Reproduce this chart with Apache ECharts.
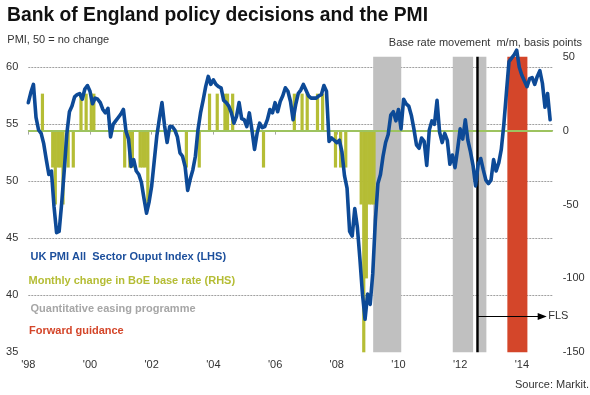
<!DOCTYPE html>
<html>
<head>
<meta charset="utf-8">
<script src="https://cdn.jsdelivr.net/npm/echarts@6/dist/echarts.min.js"></script>
<style>
html,body{margin:0;padding:0;background:#fff;}
#c{width:590px;height:395px;}
</style>
</head>
<body>
<div id="c"></div>
<script>
// ---- Data ----
const startYear = 1998; // PMI monthly series starts Jan 1998
const pmi = [
56.9,57.8,58.5,55.6,54.5,54.2,53.3,51.9,50.6,50.9,47.8,45.5,
45.6,48.1,51.0,54.2,56.1,56.6,57.4,57.6,57.7,57.2,58.1,58.4,
57.9,56.8,57.3,57.2,56.9,56.3,56.0,56.4,53.9,55.0,55.3,55.6,
55.9,56.3,54.4,53.7,51.3,51.9,50.9,50.6,49.9,48.5,47.2,48.2,
49.6,51.8,54.0,55.5,56.9,54.9,53.4,54.8,54.8,54.5,53.9,52.5,
52.2,51.3,49.2,50.2,51.0,52.2,54.5,56.0,57.1,58.3,59.2,58.5,
58.9,58.5,58.3,58.2,57.1,56.9,56.6,56.0,55.1,55.7,56.9,55.5,
55.4,54.8,56.0,54.5,52.8,54.2,55.1,54.7,54.8,55.4,56.3,56.0,
56.9,56.1,57.0,57.5,58.2,57.9,57.0,55.4,56.7,57.7,58.0,58.5,
58.0,57.5,57.3,57.3,57.3,57.5,57.6,58.4,57.9,53.5,53.8,53.6,
53.4,53.6,52.6,50.5,49.4,45.6,45.2,47.6,46.0,43.2,40.1,37.9,
40.1,39.2,41.9,46.5,49.8,50.6,52.2,53.4,54.1,55.8,56.1,55.3,
56.3,54.6,57.2,56.8,56.6,55.8,54.6,53.2,52.9,53.8,53.5,51.4,
54.5,55.3,55.0,57.1,54.3,53.4,54.2,53.6,51.5,52.3,51.2,52.8,
54.6,53.7,55.4,53.6,52.6,51.4,49.6,51.5,52.0,51.0,50.1,49.8,
50.1,51.9,50.9,51.6,52.8,55.0,57.8,60.5,60.8,61.1,61.5,60.0,
59.3,58.8,58.3,59.0,59.1,58.5,59.2,59.7,58.6,56.5,57.7,55.4
];
const rateMonths = [
"1998-06","1998-10","1998-11","1998-12","1999-01","1999-02","1999-04","1999-06",
"1999-09","1999-11","2000-01","2000-02",
"2001-02","2001-04","2001-05","2001-08","2001-09","2001-10","2001-11",
"2003-02","2003-07","2003-11","2004-02","2004-05","2004-06","2004-08",
"2005-08","2006-08","2006-11","2007-01","2007-05","2007-07",
"2007-12","2008-02","2008-04","2008-10","2008-11","2008-12","2009-01","2009-02","2009-03"
];
const rateChanges = [
25,-25,-50,-25,-25,-50,-25,-25,
25,25,25,25,
-25,-25,-25,-25,-25,-25,-50,
-25,-25,25,25,25,25,25,
-25,25,25,25,25,25,
-25,-25,-25,-50,-150,-100,-50,-50,-50
];
const qePeriods = [[2009.18, 2010.09], [2011.76, 2012.42], [2012.60, 2012.85]];
const fgPeriods = [[2013.53, 2014.18]];
const flsDate = 2012.56;
const xTickYears = [1998, 2000, 2002, 2004, 2006, 2008, 2010, 2012, 2014];
const leftTicks = [35, 40, 45, 50, 55, 60];
const leftGrid = [40, 45, 50, 55, 60];

// ---- Build ----
const FONT = '"Liberation Sans", Arial, sans-serif';
const pmiData = pmi.map((v, i) => [startYear + i / 12, v]);
const barData = rateMonths.map((m, k) => {
  const [y, mo] = m.split('-').map(Number);
  return [y + (mo - 1 + 0.5) / 12, rateChanges[k]];
});

const chart = echarts.init(document.getElementById('c'), null, {renderer: 'canvas'});
const option = {
  animation: false,
  grid: {left: 28.3, right: 37.3, top: 56.7, bottom: 42.7, containLabel: false},
  xAxis: {
    type: 'value', min: 1998, max: 2015,
    axisLine: {show: true, lineStyle: {color: '#a6a6a6', width: 1}},
    axisTick: {show: true, customValues: xTickYears, length: 4, lineStyle: {color: '#a6a6a6'}},
    axisLabel: {customValues: xTickYears, formatter: v => "'" + String(Math.round(v)).slice(2),
      color: '#333', fontSize: 11, fontFamily: FONT, margin: 7},
    splitLine: {show: false}
  },
  yAxis: [
    {type: 'value', min: 35, max: 60.93, position: 'left',
     axisLine: {show: false}, axisTick: {show: false}, splitLine: {show: false},
     axisLabel: {customValues: leftTicks, color: '#333', fontSize: 11, fontFamily: FONT, margin: 10}},
    {type: 'value', min: -150, max: 50, interval: 50, position: 'right',
     axisLine: {show: false}, axisTick: {show: false}, splitLine: {show: false},
     axisLabel: {color: '#333', fontSize: 11, fontFamily: FONT, margin: 10, align: 'left'}}
  ],
  series: [
    {
      name: 'Monthly change in BoE base rate', type: 'bar', xAxisIndex: 0, yAxisIndex: 1,
      data: barData, barWidth: 3.2, z: 2, silent: true,
      itemStyle: {color: '#b5bd35'},
      markLine: {
        z: 3, silent: true, symbol: ['none', 'none'], animation: false,
        label: {show: false},
        data: [
          {yAxis: 0, lineStyle: {color: '#9dc35f', width: 2, type: 'solid'}},
          {xAxis: flsDate, lineStyle: {color: '#000', width: 2.5, type: 'solid'}},
          [
            {coord: [flsDate + 0.02, -125.7], symbol: 'none',
             lineStyle: {color: '#000', width: 1, type: 'solid'},
             label: {show: true, formatter: 'FLS', position: 'end', distance: 6, color: '#333', fontSize: 11, fontFamily: FONT}},
            {coord: [2014.66, -125.7], symbol: 'triangle', symbolSize: [7, 9], symbolRotate: -90}
          ]
        ]
      }
    },
    {
      name: 'UK PMI', type: 'line', xAxisIndex: 0, yAxisIndex: 0,
      data: pmiData, showSymbol: false, symbol: 'none', clip: false, z: 4, silent: true,
      lineStyle: {color: '#0d4a97', width: 3.6, join: 'round', cap: 'round'},
      itemStyle: {color: '#0d4a97'},
      markLine: {
        z: 0, silent: true, symbol: ['none', 'none'], animation: false,
        label: {show: false},
        lineStyle: {color: '#a0a0a0', width: 1, type: [2, 1]},
        data: leftGrid.map(v => ({yAxis: v}))
      },
      markArea: {
        z: 1, silent: true, animation: false,
        label: {show: false},
        data: qePeriods.map(p => [{xAxis: p[0], itemStyle: {color: '#c0c0c0', opacity: 1}}, {xAxis: p[1]}])
          .concat(fgPeriods.map(p => [{xAxis: p[0], itemStyle: {color: '#d4462a', opacity: 1}}, {xAxis: p[1]}]))
      }
    }
  ],
  graphic: [
    {type: 'text', x: 7, y: 16, silent: true, style: {text: 'Bank of England policy decisions and the PMI', font: 'bold 19.3px ' + FONT, fill: '#111', verticalAlign: 'middle', textVerticalAlign: 'middle'}},
    {type: 'text', x: 7.3, y: 40.3, silent: true, style: {text: 'PMI, 50 = no change', font: '11px ' + FONT, fill: '#333', verticalAlign: 'middle', textVerticalAlign: 'middle'}},
    {type: 'text', x: 582, y: 42.5, silent: true, style: {text: 'Base rate movement  m/m, basis points', font: '11px ' + FONT, fill: '#333', align: 'right', textAlign: 'right', verticalAlign: 'middle', textVerticalAlign: 'middle'}},
    {type: 'text', x: 30.5, y: 257, silent: true, style: {text: 'UK PMI All  Sector Ouput Index (LHS)', font: 'bold 11px ' + FONT, fill: '#1c4f9c', verticalAlign: 'middle', textVerticalAlign: 'middle'}},
    {type: 'text', x: 28.5, y: 280.5, silent: true, style: {text: 'Monthly change in BoE base rate (RHS)', font: 'bold 11px ' + FONT, fill: '#b5bd35', verticalAlign: 'middle', textVerticalAlign: 'middle'}},
    {type: 'text', x: 30.5, y: 308.8, silent: true, style: {text: 'Quantitative easing programme', font: 'bold 11px ' + FONT, fill: '#a6a6a6', verticalAlign: 'middle', textVerticalAlign: 'middle'}},
    {type: 'text', x: 29, y: 331.2, silent: true, style: {text: 'Forward guidance', font: 'bold 11px ' + FONT, fill: '#d4462a', verticalAlign: 'middle', textVerticalAlign: 'middle'}},
    {type: 'text', x: 589, y: 385.3, silent: true, style: {text: 'Source: Markit.', font: '11px ' + FONT, fill: '#333', align: 'right', textAlign: 'right', verticalAlign: 'middle', textVerticalAlign: 'middle'}}
  ]
};
chart.setOption(option);
</script>
</body>
</html>
